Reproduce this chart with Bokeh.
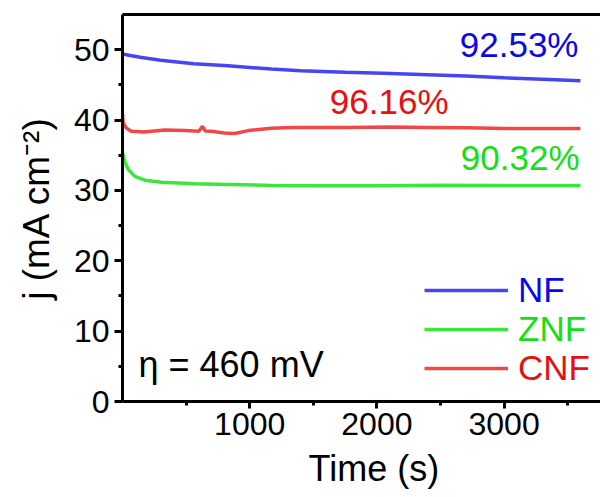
from bokeh.plotting import figure
from bokeh.models import Range1d, LinearAxis, FixedTicker, Label, Legend, LegendItem, Title
from bokeh.embed import file_html
from bokeh.resources import INLINE

# ---- data ----
series_names = ["NF", "ZNF", "CNF"]

t_nf = [0, 50, 150, 300, 560, 830, 1170, 1400, 1750, 2050, 2400, 2700, 3000, 3300, 3600]
j_nf = [49.4, 49.2, 48.9, 48.5, 48.0, 47.7, 47.25, 47.0, 46.8, 46.65, 46.45, 46.25, 46.0, 45.8, 45.6]

t_znf = [0, 10, 22, 44, 97, 176, 307, 566, 830, 1170, 1500, 2000, 2500, 3000, 3600]
j_znf = [35.4, 34.6, 33.9, 33.0, 32.0, 31.45, 31.15, 30.95, 30.85, 30.7, 30.65, 30.65, 30.75, 30.7, 30.7]

t_cnf = [0, 5, 30, 70, 170, 330, 490, 600, 629, 650, 700, 800, 880, 990, 1170, 1350,
         1750, 2100, 2400, 2700, 3000, 3300, 3600]
j_cnf = [40.8, 39.6, 38.85, 38.4, 38.3, 38.6, 38.5, 38.4, 39.1, 38.45, 38.4, 38.15, 38.1, 38.5,
         38.85, 38.95, 38.95, 39.0, 38.95, 38.9, 38.8, 38.8, 38.8]

retention = ["92.53%", "90.32%", "96.16%"]   # NF, ZNF, CNF
condition = "\u03b7 = 460 mV"
x_title = "Time (s)"
y_title = "j (mA cm\u207b\u00b2)"

x_major = [1000, 2000, 3000]
x_minor = [500, 1500, 2500, 3500]
y_major = [0, 10, 20, 30, 40, 50]
y_minor = [5, 15, 25, 35, 45]

line_colors = ["#4646f0", "#3ce63c", "#f04848"]
text_colors = ["#0a0ae6", "#14e014", "#e61010"]

FONT = "Liberation Sans"

p = figure(width=600, height=497, x_range=Range1d(0, 3758), y_range=Range1d(0, 55),
           output_backend="svg", toolbar_location=None,
           min_border_left=122, min_border_right=0, min_border_top=14, min_border_bottom=96)
p.outline_line_color = None
p.grid.visible = False
p.background_fill_color = "white"
p.border_fill_color = "white"

r_nf = p.line(t_nf, j_nf, line_color=line_colors[0], line_width=3.5)
r_znf = p.line(t_znf, j_znf, line_color=line_colors[1], line_width=3.5)
r_cnf = p.line(t_cnf, j_cnf, line_color=line_colors[2], line_width=3.5)

for ax in (p.xaxis[0], p.yaxis[0]):
    ax.axis_line_width = 3
    ax.major_tick_line_width = 3
    ax.minor_tick_line_width = 3
    ax.major_tick_in = 0
    ax.minor_tick_in = 0
    ax.major_label_text_font = FONT
    ax.major_label_text_font_size = "32px"
    ax.major_label_text_color = "black"
    ax.axis_label_text_font = FONT
    ax.axis_label_text_font_style = "normal"
    ax.axis_label_text_color = "black"

p.xaxis[0].ticker = FixedTicker(ticks=x_major, minor_ticks=x_minor)
p.yaxis[0].ticker = FixedTicker(ticks=y_major, minor_ticks=y_minor)
p.xaxis[0].major_tick_out = 7
p.xaxis[0].minor_tick_out = 4
p.yaxis[0].major_tick_out = 8
p.yaxis[0].minor_tick_out = 4
p.xaxis[0].major_label_standoff = 4
p.yaxis[0].major_label_standoff = 5
p.yaxis[0].axis_label = y_title
p.yaxis[0].axis_label_text_font_size = "37px"
p.yaxis[0].axis_label_standoff = 14

top = LinearAxis(ticker=FixedTicker(ticks=[]), axis_line_width=3,
                 major_tick_out=0, minor_tick_out=0, major_tick_in=0, minor_tick_in=0,
                 major_label_standoff=0, axis_label_standoff=0)
p.add_layout(top, "above")

# x-axis title as a below-title (the original axis runs past the right edge, so it sits right of centre)
p.add_layout(Title(text=x_title, align="left", offset=186, standoff=16,
                   text_font=FONT, text_font_size="36px", text_font_style="normal",
                   text_color="black"), "below")

# legends (one per series so each label keeps its colour)
leg_bottoms = [91, 52, 13]
for name, rend, col, yb in zip(series_names, [r_nf, r_znf, r_cnf], text_colors, leg_bottoms):
    lg = Legend(items=[LegendItem(label=name, renderers=[rend])], location=(302, yb),
                label_text_font=FONT, label_text_font_size="35px", label_text_color=col,
                glyph_width=84, glyph_height=30, label_standoff=10, padding=0, margin=0,
                spacing=0, background_fill_alpha=0, border_line_alpha=0)
    p.add_layout(lg)

# retention annotations
p.add_layout(Label(x=3585, y=50.8, text=retention[0], text_align="right", text_baseline="alphabetic",
                   text_font=FONT, text_font_size="35px", text_color=text_colors[0]))
p.add_layout(Label(x=3593, y=34.7, text=retention[1], text_align="right", text_baseline="alphabetic",
                   text_font=FONT, text_font_size="35px", text_color=text_colors[1]))
p.add_layout(Label(x=2563, y=42.6, text=retention[2], text_align="right", text_baseline="alphabetic",
                   text_font=FONT, text_font_size="35px", text_color=text_colors[2]))
p.add_layout(Label(x=126, y=5.2, text=condition, text_align="left", text_baseline="alphabetic",
                   text_font=FONT, text_font_size="36px", text_color="black"))

open("out.html", "w").write(file_html(p, INLINE))
